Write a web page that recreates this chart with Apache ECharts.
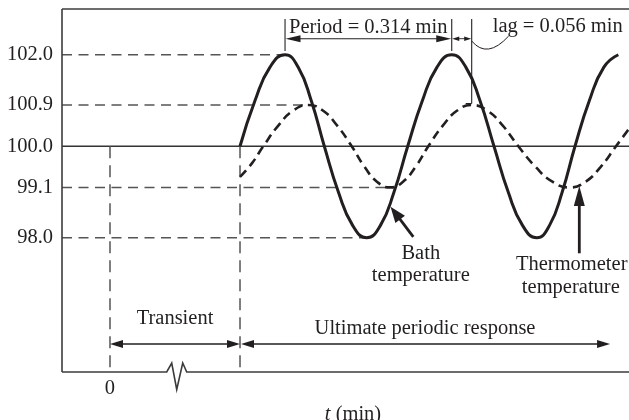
<!DOCTYPE html>
<html>
<head>
<meta charset="utf-8">
<script src="https://cdn.jsdelivr.net/npm/echarts@6/dist/echarts.min.js"></script>
<style>
  html, body { margin: 0; padding: 0; background: #fff; }
  #chart { width: 629px; height: 420px; }
</style>
</head>
<body>
<div id="chart"></div>
<script>
// Time in minutes, counted from the start of the ultimate periodic response.
const bathTime = [0, 0.0283, 0.0565, 0.0848, 0.1094, 0.1341, 0.1588, 0.1853, 0.2121, 0.2386,
                  0.2645, 0.2901, 0.3159, 0.3436, 0.3711, 0.3988, 0.4253, 0.4519, 0.4784, 0.5052,
                  0.5321, 0.5589, 0.5830, 0.6069, 0.6310, 0.6581, 0.6854, 0.7126];
const bathTemp = [100.0, 101.0, 101.73, 102.0, 101.73, 101.0, 100.0, 99.0, 98.27, 98.0,
                  98.27, 99.0, 100.0, 101.0, 101.73, 102.0, 101.73, 101.0, 100.0, 99.0,
                  98.27, 98.0, 98.27, 99.0, 100.0, 101.0, 101.73, 102.0];

const thermTime = [0, 0.0220, 0.0439, 0.0721, 0.1004, 0.1286, 0.1560, 0.1831, 0.2104, 0.2345,
                   0.2584, 0.2825, 0.3066, 0.3306, 0.3547, 0.3820, 0.4091, 0.4364, 0.4656, 0.4950,
                   0.5242, 0.5566, 0.5892, 0.6216, 0.6504, 0.6794, 0.7082, 0.7327];
const thermTemp = [99.33, 99.62, 100.0, 100.45, 100.78, 100.9, 100.78, 100.45, 100.0, 99.55,
                   99.22, 99.1, 99.22, 99.55, 100.0, 100.45, 100.78, 100.9, 100.78, 100.45,
                   100.0, 99.55, 99.22, 99.1, 99.22, 99.55, 100.0, 100.38];

const tempTicks = [98.0, 99.1, 100.0, 100.9, 102.0];
const timeTickLabel = '0';
const periodText = 'Period = 0.314 min';
const lagText = 'lag = 0.056 min';
const bathLabel = ['Bath', 'temperature'];
const thermLabel = ['Thermometer', 'temperature'];

// Axis extents (the time axis is broken inside the transient stretch).
const T_MIN = -0.3353, T_MAX = 0.7327;
const V_MIN = 95.065, V_MAX = 103.0;
const T_ZERO = -0.2449;      // where t = 0 sits on the broken axis
const T_BREAK = -0.1192;     // zigzag break mark
const T_CROSS = 0.292;       // curves meet on the 99.1 line
const T_ARROW_END = 0.697;   // end of the "ultimate periodic response" arrow

const INK = '#231f20';
const GUIDE = '#555555';
const FRAME = '#3c3c3c';
const SERIF = '"Liberation Serif", "Times New Roman", serif';
const NOTE_SIZE = 20.5;

// Indices of the crests and troughs of each curve.
const extremes = (vals, target) => vals.reduce((acc, v, i) => (v === target ? acc.concat(i) : acc), []);
const bathPeaks = extremes(bathTemp, Math.max(...bathTemp));
const bathTroughs = extremes(bathTemp, Math.min(...bathTemp));
const thermPeaks = extremes(thermTemp, Math.max(...thermTemp));

function toolkit(api, kids) {
  const c = (t, v) => api.coord([t, v]);
  const seg = (a, b, s) => kids.push({
    type: 'line',
    shape: { x1: a[0], y1: a[1], x2: b[0], y2: b[1] },
    style: Object.assign({ stroke: INK, lineWidth: 1.2, fill: null }, s || {})
  });
  const head = (tip, from, len, half) => {
    const dx = tip[0] - from[0], dy = tip[1] - from[1];
    const d = Math.hypot(dx, dy) || 1;
    const ux = dx / d, uy = dy / d;
    const bx = tip[0] - ux * len, by = tip[1] - uy * len;
    kids.push({
      type: 'polygon',
      shape: { points: [[tip[0], tip[1]], [bx - uy * half, by + ux * half], [bx + uy * half, by - ux * half]] },
      style: { fill: INK, stroke: null }
    });
  };
  const arrow = (from, tip, len, half, w) => {
    const dx = tip[0] - from[0], dy = tip[1] - from[1];
    const d = Math.hypot(dx, dy) || 1;
    const end = [tip[0] - dx / d * len * 0.7, tip[1] - dy / d * len * 0.7];
    seg(from, end, { lineWidth: w });
    head(tip, from, len, half);
  };
  const dbl = (a, b, len, half, w) => {
    const dx = b[0] - a[0], dy = b[1] - a[1];
    const d = Math.hypot(dx, dy) || 1;
    seg([a[0] + dx / d * len * 0.7, a[1] + dy / d * len * 0.7],
        [b[0] - dx / d * len * 0.7, b[1] - dy / d * len * 0.7], { lineWidth: w });
    head(a, b, len, half);
    head(b, a, len, half);
  };
  const label = (str, x, y, align) => kids.push({
    type: 'text',
    style: { text: str, x: x, y: y, fill: INK, fontSize: NOTE_SIZE, fontFamily: SERIF,
             align: align || 'center', verticalAlign: 'middle' }
  });
  return { c, seg, head, arrow, dbl, label };
}

// Frame, guide lines and the broken time axis.
function drawGuides(params, api) {
  const kids = [];
  const { c, seg } = toolkit(api, kids);
  const dash = { stroke: GUIDE, lineWidth: 1.5, lineDash: [10, 6.5] };
  const vdash = { stroke: GUIDE, lineWidth: 1.5, lineDash: [12, 7] };

  seg(c(T_MIN, tempTicks[4]), c(bathTime[bathPeaks[0]], tempTicks[4]), dash);
  seg(c(T_MIN, tempTicks[3]), c(thermTime[thermPeaks[0]], tempTicks[3]), dash);
  seg(c(T_MIN, tempTicks[1]), c(T_CROSS, tempTicks[1]), dash);
  seg(c(T_MIN, tempTicks[0]), c(bathTime[bathTroughs[0]], tempTicks[0]), dash);
  seg(c(T_MIN, tempTicks[2]), c(T_MAX, tempTicks[2]), { stroke: '#333', lineWidth: 1.3 });

  seg(c(T_ZERO, tempTicks[2]), c(T_ZERO, V_MIN), vdash);
  seg(c(0, tempTicks[2]), c(0, V_MIN), vdash);

  const frame = { stroke: FRAME, lineWidth: 1.6 };
  seg(c(T_MIN, V_MAX), c(T_MIN, V_MIN), frame);
  seg(c(T_MIN, V_MAX), c(T_MAX, V_MAX), frame);

  const y0 = c(0, V_MIN)[1];
  const x0 = c(T_MIN, V_MIN)[0];
  const x1 = c(T_MAX, V_MIN)[0];
  const bx = c(T_BREAK, V_MIN)[0];
  kids.push({
    type: 'polyline',
    shape: { points: [[x0, y0], [bx - 10, y0], [bx - 5, y0 - 9], [bx, y0 + 17.5],
                      [bx + 6, y0 - 9], [bx + 10, y0], [x1, y0]] },
    style: { stroke: FRAME, lineWidth: 1.6, fill: null }
  });
  return { type: 'group', children: kids };
}

// Dimension brackets, span arrows and pointers with their captions.
function drawNotes(params, api) {
  const kids = [];
  const { c, seg, arrow, dbl, label } = toolkit(api, kids);

  const topY = c(0, V_MAX)[1];
  const p1 = c(bathTime[bathPeaks[0]], bathTemp[bathPeaks[0]])[0];
  const p2 = c(bathTime[bathPeaks[1]], bathTemp[bathPeaks[1]])[0];
  const lagPeak = c(thermTime[thermPeaks[1]], thermTemp[thermPeaks[1]]);
  const lagX = lagPeak[0];
  const dimY = topY + 29.7;

  seg([p1, topY + 10], [p1, topY + 42], { lineWidth: 1.1 });
  seg([p2, topY + 10], [p2, topY + 42], { lineWidth: 1.1 });
  dbl([p1 + 0.5, dimY], [p2 - 0.5, dimY], 15, 3.5, 1.1);
  label(periodText, p1 + 4, topY + 18.3, 'left');

  seg([lagX, topY + 10], [lagX, lagPeak[1] - 1.5], { lineWidth: 1.1 });
  seg([lagX - 6, lagPeak[1] - 1.5], [lagX, lagPeak[1] - 1.5], { lineWidth: 1.1 });
  dbl([p2 + 0.5, dimY], [lagX - 0.5, dimY], 7, 2.3, 0.9);
  label(lagText, lagX + 21, topY + 17.5, 'left');
  kids.push({
    type: 'bezierCurve',
    shape: { x1: lagX, y1: topY + 32, cpx1: lagX + 15.5, cpy1: topY + 50.5, x2: lagX + 37, y2: topY + 27 },
    style: { stroke: INK, lineWidth: 1, fill: null }
  });

  const axisY = c(0, V_MIN)[1];
  const arrowY = axisY - 28;
  const xz = c(T_ZERO, V_MIN)[0];
  const xs = c(0, V_MIN)[0];
  const xe = c(T_ARROW_END, V_MIN)[0];
  dbl([xz, arrowY], [xs, arrowY], 13, 4, 1.3);
  dbl([xs + 1, arrowY], [xe, arrowY], 13, 4, 1.3);
  label('Transient', (xz + xs) / 2, axisY - 53.7);
  label('Ultimate periodic response', (xs + xe) / 2, axisY - 43);

  const bTip = c(0.2835, 98.68), bTail = c(0.3264, 98.02);
  arrow(bTail, bTip, 16, 6, 2.8);
  label(bathLabel[0], bTail[0] + 7.5, bTail[1] + 16.5);
  label(bathLabel[1], bTail[0] + 7.5, bTail[1] + 38.9);

  const tTip = c(0.6391, 99.13), tTail = c(0.6391, 97.66);
  arrow(tTail, tTip, 20, 5.5, 2.8);
  label(thermLabel[0], tTail[0] - 7.6, tTail[1] + 11.7);
  label(thermLabel[1], tTail[0] - 8.5, tTail[1] + 34.7);

  return { type: 'group', children: kids };
}

const chart = echarts.init(document.getElementById('chart'), null, { renderer: 'canvas' });
chart.setOption({
  animation: false,
  backgroundColor: '#ffffff',
  grid: { left: 62, right: 0, top: 9, bottom: 48, containLabel: false, outerBoundsMode: 'none' },
  xAxis: {
    type: 'value',
    min: T_MIN,
    max: T_MAX,
    axisLine: { show: false },
    axisTick: { show: false },
    splitLine: { show: false },
    axisLabel: {
      customValues: [T_ZERO],
      formatter: () => timeTickLabel,
      fontSize: 20.5,
      fontFamily: SERIF,
      color: INK,
      margin: 6
    },
    name: '{i|t} (min)',
    nameLocation: 'middle',
    nameGap: 28,
    nameTextStyle: {
      fontSize: NOTE_SIZE,
      fontFamily: SERIF,
      color: INK,
      padding: [0, 0, 0, 15],
      rich: { i: { fontSize: NOTE_SIZE, fontFamily: SERIF, fontStyle: 'italic', color: INK } }
    }
  },
  yAxis: {
    type: 'value',
    min: V_MIN,
    max: V_MAX,
    axisLine: { show: false },
    axisTick: { show: false },
    splitLine: { show: false },
    axisLabel: {
      customValues: tempTicks,
      formatter: (v) => Number(v).toFixed(1),
      fontSize: 20.5,
      fontFamily: SERIF,
      color: INK,
      margin: 9
    }
  },
  series: [
    {
      type: 'custom',
      name: 'guides',
      coordinateSystem: 'cartesian2d',
      data: [[0, 100]],
      renderItem: drawGuides,
      silent: true,
      clip: false,
      z: 1
    },
    {
      type: 'line',
      name: 'Bath temperature',
      data: bathTime.map((t, i) => [t, bathTemp[i]]),
      smooth: 0.5,
      showSymbol: false,
      silent: true,
      lineStyle: { color: INK, width: 3 },
      z: 3
    },
    {
      type: 'line',
      name: 'Thermometer temperature',
      data: thermTime.map((t, i) => [t, thermTemp[i]]),
      smooth: 0.5,
      showSymbol: false,
      silent: true,
      lineStyle: { color: INK, width: 2.6, type: [9, 5.5] },
      z: 3
    },
    {
      type: 'custom',
      name: 'notes',
      coordinateSystem: 'cartesian2d',
      data: [[0, 100]],
      renderItem: drawNotes,
      silent: true,
      clip: false,
      z: 4
    }
  ]
});
</script>
</body>
</html>
